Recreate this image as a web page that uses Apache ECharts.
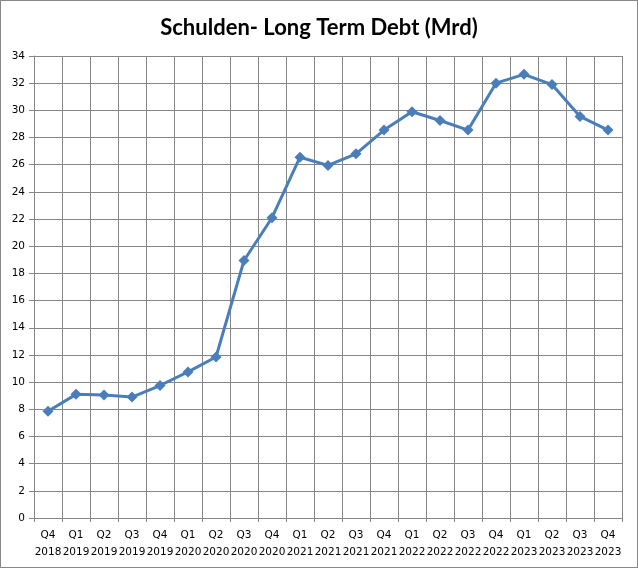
<!DOCTYPE html>
<html><head><meta charset="utf-8">
<script src="https://cdn.jsdelivr.net/npm/echarts@6/dist/echarts.min.js"></script>
<style>
html,body{margin:0;padding:0;background:#fff;}
#c{width:636px;height:566px;border:1px solid #888;}
</style></head>
<body><div id="c"></div>
<script>
const categories = ["Q4\n2018","Q1\n2019","Q2\n2019","Q3\n2019","Q4\n2019","Q1\n2020","Q2\n2020","Q3\n2020","Q4\n2020","Q1\n2021","Q2\n2021","Q3\n2021","Q4\n2021","Q1\n2022","Q2\n2022","Q3\n2022","Q4\n2022","Q1\n2023","Q2\n2023","Q3\n2023","Q4\n2023"];
const debt = [7.85, 9.1, 9.05, 8.9, 9.75, 10.75, 11.85, 18.95, 22.1, 26.55, 25.95, 26.8, 28.55, 29.9, 29.25, 28.55, 32.0, 32.65, 31.9, 29.55, 28.55];
const chart = echarts.init(document.getElementById('c'), null, {renderer:'canvas'});
chart.setOption({
  animation:false,
  backgroundColor:'#fff',
  title:{text:'Schulden- Long Term Debt (Mrd)', left:'center', top:11,
    textStyle:{fontFamily:'Lato', fontWeight:'bold', fontSize:22, color:'#000'}},
  grid:{left:33, right:15, top:55, bottom:49},
  xAxis:{type:'category', data:categories, boundaryGap:true,
    axisLine:{lineStyle:{color:'#868686', width:1}},
    axisTick:{show:true, length:4, lineStyle:{color:'#868686'}},
    splitLine:{show:true, lineStyle:{color:'#868686', width:1}},
    axisLabel:{fontFamily:'DejaVu Sans', fontSize:10.5, color:'#000', lineHeight:17, margin:9, interval:0}},
  yAxis:{type:'value', min:0, max:34, interval:2,
    axisLine:{show:true, lineStyle:{color:'#868686'}},
    axisTick:{show:true, length:5, lineStyle:{color:'#868686'}},
    splitLine:{show:true, lineStyle:{color:'#868686', width:1}},
    axisLabel:{fontFamily:'DejaVu Sans', fontSize:10.5, color:'#000', margin:9}},
  series:[{type:'line', data:debt, symbol:'diamond', symbolSize:11,
    lineStyle:{color:'#4a7ebb', width:3},
    itemStyle:{color:'#4a7ebb'}}]
});
</script></body></html>
